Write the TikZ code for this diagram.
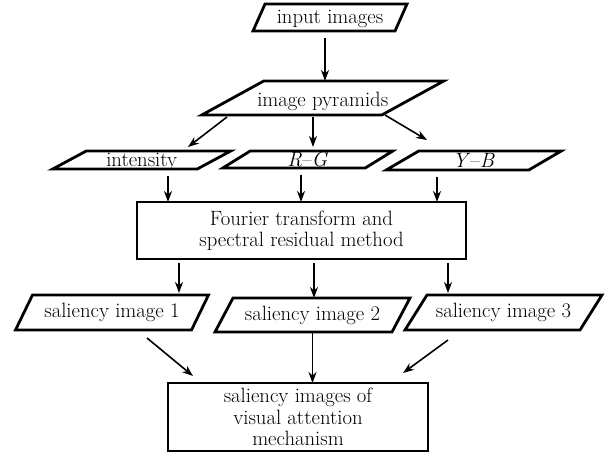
\documentclass[tikz,border=0pt]{standalone}
\usetikzlibrary{arrows.meta}
\tikzset{
  ptext/.style={shape=rectangle, inner sep=0pt, outer sep=0pt, text depth=1pt, font=\fontsize{20.7}{23}\selectfont},
  pline/.style={line width=2.8pt, line join=miter},
  boxnode/.style={draw, line width=2.8pt, inner sep=0pt, outer sep=0pt, align=center, font=\fontsize{20.7}{21.5}\selectfont},
  arr/.style={line width=1.6pt, -{Stealth[length=11pt,width=8pt,inset=3.5pt]}}
}
\newcommand\para[8]{%
  \node[ptext, minimum width=#4pt, minimum height=#5pt, text height=#7pt] (#1) at (#2,#3) {#8};
  \draw[pline] ([xshift=#6pt]#1.north west) -- ([xshift=#6pt]#1.north east) -- ([xshift=-#6pt]#1.south east) -- ([xshift=-#6pt]#1.south west) -- cycle;}
\begin{document}
\begin{tikzpicture}[x=1pt,y=-1pt]
\fill[white] (0,0) rectangle (613,456);
\useasboundingbox (0,0) rectangle (613,456);
% nodes
\para{inp}{330}{17.5}{142}{27}{6}{13}{input images}
\para{pyr}{322.75}{98}{180}{34}{31}{18}{image pyramids}
\para{int}{141.75}{160}{144.5}{18}{16.75}{14}{intensity}
\para{rg}{307.75}{159.5}{142.5}{17}{13.75}{14}{\textit{R}\textendash\textit{G}}
\para{yb}{473.75}{160.5}{142.5}{19}{16.25}{14}{\textit{Y}\textendash\textit{B}}
\node[boxnode, minimum width=329pt, minimum height=57pt] (four) at (301.5,230.5) {Fourier transform and\\spectral residual method};
\para{s1}{112}{312.5}{176}{35}{8.5}{10}{saliency image 1}
\para{s2}{312.5}{315}{177}{34}{9}{11}{saliency image 2}
\para{s3}{503.5}{312.5}{175}{35}{11}{10}{saliency image 3}
\node[boxnode, minimum width=260pt, minimum height=68pt] (fin) at (298,417) {saliency images of\\visual attention\\mechanism};
% connectors
\draw[arr] ([xshift=-5pt,yshift=-7pt]inp.south) -- ([xshift=-5pt]inp.south |- pyr.north);
\draw[arr] ([xshift=-95.75pt,yshift=-2pt]pyr.south) -- ([xshift=46.25pt,yshift=4pt]int.north);
\draw[arr] ([xshift=-9.75pt,yshift=-2pt]pyr.south) -- ([xshift=-9.75pt,yshift=4pt]pyr.south |- rg.north);
\draw[arr] ([xshift=62.25pt]pyr.south) -- ([xshift=-46.75pt,yshift=11pt]yb.north);
\draw[arr] ([xshift=26.25pt,yshift=-7pt]int.south) -- ([xshift=26.25pt]int.south |- four.north);
\draw[arr] ([xshift=-6.75pt,yshift=-7pt]rg.south) -- ([xshift=-6.75pt]rg.south |- four.north);
\draw[arr] ([xshift=-36.75pt,yshift=-7pt]yb.south) -- ([xshift=-36.75pt]yb.south |- four.north);
\draw[arr] ([xshift=-122.5pt,yshift=-4pt]four.south) -- ([xshift=-122.5pt,yshift=2pt]four.south |- s1.north);
\draw[arr] ([xshift=12.5pt,yshift=-4pt]four.south) -- ([xshift=12.5pt]four.south |- s2.north);
\draw[arr] ([xshift=146.5pt,yshift=-4pt]four.south) -- ([xshift=146.5pt,yshift=2pt]four.south |- s3.north);
\draw[arr] ([xshift=35pt,yshift=-8pt]s1.south) -- ([xshift=-105pt,yshift=7pt]fin.north);
\draw[arr] (s2.south) -- (s2.south |- fin.north);
\draw[arr] ([xshift=-55.5pt,yshift=-10pt]s3.south) -- ([xshift=105pt,yshift=10pt]fin.north);
\end{tikzpicture}
\end{document}
